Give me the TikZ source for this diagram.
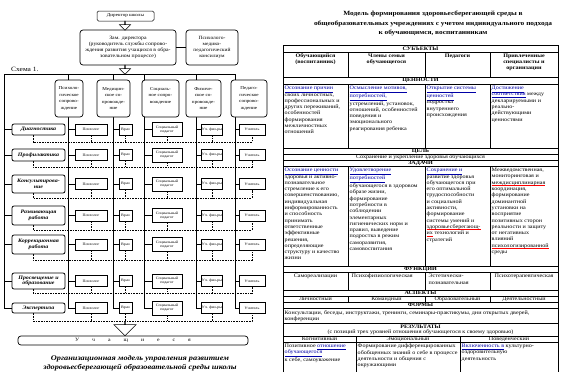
\documentclass[tikz,border=0pt]{standalone}
\usepackage{fontspec}
\setmainfont[FakeStretch=1.15]{Liberation Serif}
\usetikzlibrary{shapes.arrows}
\usetikzlibrary{positioning}

\newcommand{\fsz}[2]{\fontsize{#1}{#2}\selectfont}
\newcommand{\bl}[1]{\textcolor{blue!65!black}{\underline{#1}}}
\newsavebox{\rdbox}
\newcommand{\rd}[1]{\sbox{\rdbox}{#1}\rlap{\textcolor{red}{\rule[-0.6ex]{\wd\rdbox}{0.4pt}}}\usebox{\rdbox}}

\begin{document}
\begin{tikzpicture}[x=1pt,y=-1pt,
box/.style={draw,rounded corners=3pt,line width=0.7pt,fill=white,align=center,inner sep=1pt},
colbox/.style={box,minimum height=37,font=\fsz{4.5}{6.4}},
lbl/.style={draw,rounded corners=2pt,line width=0.8pt,fill=white,align=center,minimum width=53,inner sep=0.5pt,font=\fsz{5.2}{5.6}\bfseries\itshape},
sm/.style={draw,line width=0.4pt,fill=white,align=center,minimum height=11,inner sep=0.5pt,font=\fsz{3.6}{4.2}},
dsh/.style={dashed,dash pattern=on 1.6pt off 1pt,line width=0.4pt},
hollow/.style={single arrow,draw,fill=white,rotate=-90,inner sep=0pt,line width=0.5pt},
hd/.style={inner sep=0pt,font=\fsz{5.3}{6}\bfseries},
tcell/.style={anchor=north west,inner sep=0pt,align=left,font=\fsz{5.3}{6.3}}]
\useasboundingbox (0,0) rectangle (561,372);

\coordinate (tr0) at (4,74);
\coordinate (tr1) at (68,74);
\coordinate (tr2) at (113,74);
\coordinate (tr3) at (144,74);
\coordinate (tr4) at (196,74);
\coordinate (tr5) at (235,74);
\coordinate (bt) at (0,308);
\draw[line width=0.5pt] (tr0) -- (tr5);
\foreach \i in {0,...,5}
  \draw[line width=0.5pt] (tr\i) -- (tr\i |- bt);

\node[box,rounded corners=1.5pt,line width=0.5pt,minimum width=57,minimum height=10,font=\fsz{4.5}{5}] (dir) at (125.5,16) {Директор школы};
\node[box,minimum width=96,minimum height=35,font=\fsz{5}{5.8}] (zam) at (128,47.5)
  {Зам. директора\\(руководитель службы сопрово-\\ждения развития учащихся в обра-\\зовательном процессе)};
\node[box,minimum width=52,minimum height=35,font=\fsz{4.8}{5.8}] (pmpk) at (212,47.5)
  {Психолого-\\медико-\\педагогический\\консилиум};
\draw[line width=0.6pt] (zam) -- (pmpk);
\node[hollow,minimum height=9,minimum width=11,single arrow head extend=3pt] (ar1) at (125,25.5) {};
\node[hollow,minimum height=9,minimum width=11,single arrow head extend=3pt] (ar2) at (125,69.5) {};
\node[anchor=west,inner sep=0pt,font=\fsz{6.5}{7}] (sch) at (11,69.5) {Схема 1.};

\node[colbox,minimum width=28] (col1) at (69,98.5) {Психоло-\\гическое\\сопрово-\\ждение};
\node[colbox,minimum width=33] (col2) at (113.5,98.5) {Медицин-\\ское со-\\провожде-\\ние};
\node[colbox,minimum width=37] (col3) at (160.5,98.5) {Социаль-\\ное сопро-\\вождение\\~};
\node[colbox,minimum width=35] (col4) at (203.5,98.5) {Физиче-\\ское со-\\провожде-\\ние};
\node[colbox,minimum width=36] (col5) at (249,98.5) {Педаго-\\гическое\\сопрово-\\ждение};

\foreach \n/\t/\yc/\h/\dy in {1/Диагностика/129.5/11/142, 2/Профилактика/155/12/167,
  3/{Консультирова-\\ние}/184/18/198, 4/{Развивающая\\работа}/215.5/19/230,
  5/{Коррекционная\\работа}/244.5/19/260, 6/{Просвещение и\\образование}/281/16/293,
  7/Экспертиза/308/10/321}
{
  \node[lbl,minimum height=\h] (lb\n) at (38.5,\yc) {\t};
  \node[sm,minimum width=32] (ps\n) at (91,\yc) {Психолог};
  \node[sm,minimum width=13] (vr\n) at (125.5,\yc) {Врач};
  \node[sm,minimum width=30,minimum height=14] (sp\n) at (167,\yc) {Социальный\\педагог};
  \node[sm,minimum width=20] (fz\n) at (212,\yc) {Уч. физ-ры};
  \node[sm,minimum width=26] (uc\n) at (252,\yc) {Учитель};
  \coordinate (dl\n) at (33,\dy);
  \draw[line width=0.5pt] (lb\n.west) -- (lb\n.west -| tr0);
  \draw[line width=0.4pt] (ps\n.west) -- (ps\n.west -| tr1);
  \draw[line width=0.4pt] (vr\n.west) -- (vr\n.west -| tr2);
  \draw[line width=0.4pt] (sp\n.west) -- (sp\n.west -| tr3);
  \draw[line width=0.4pt] (fz\n.west) -- (fz\n.west -| tr4);
  \draw[line width=0.4pt] (uc\n.west) -- (uc\n.west -| tr5);
  \draw[dsh] (lb\n.south -| dl\n) -- (dl\n) -- (dl\n -| uc\n.south) -- (uc\n.south);
  \draw[dsh] (ps\n.south) -- (ps\n.south |- dl\n);
  \draw[dsh] (vr\n.south) -- (vr\n.south |- dl\n);
  \draw[dsh] (sp\n.south) -- (sp\n.south |- dl\n);
  \draw[dsh] (fz\n.south) -- (fz\n.south |- dl\n);
}

\node[hollow,minimum height=14,minimum width=22,single arrow head extend=5.5pt] (ar3) at (125,328.5) {};
\node[box,minimum width=230,minimum height=9,font=\fsz{5}{5}] (uch) at (133,340.5)
  {У\hspace{13pt}ч\hspace{13pt}а\hspace{13pt}щ\hspace{13pt}и\hspace{13pt}е\hspace{13pt}с\hspace{13pt}я};
\node[align=center,inner sep=0pt,font=\fsz{7.2}{8.7}\bfseries\itshape] (cap) at (140,363.5)
  {Организационная модель управления развитием\\здоровьесберегающей образовательной среды школы};

\node[align=center,inner sep=0pt,font=\fsz{6.4}{9.5}\bfseries] (title) at (433,23.5)
  {Модель формирования здоровьесберегающей среды в\\общеобразовательных учреждениях с учетом индивидуального подхода\\к обучающимся, воспитанникам};

\draw[line width=0.5pt] (283,372) -- (283,45) -- (558,45) -- (558,372);
\foreach \y in {52,77,84,148,154,160,166,266,272,290,296,302,308,323,336,342}
  \draw[line width=0.5pt] (283,\y) -- (558,\y);
\foreach \x in {348,425,490} {
  \draw[line width=0.5pt] (\x,52) -- (\x,77);
  \draw[line width=0.5pt] (\x,84) -- (\x,148);
  \draw[line width=0.5pt] (\x,166) -- (\x,266);
  \draw[line width=0.5pt] (\x,272) -- (\x,290);
  \draw[line width=0.5pt] (\x,296) -- (\x,302);
}
\foreach \x in {356,460}
  \draw[line width=0.5pt] (\x,336) -- (\x,372);

\node[hd] (h1) at (420.5,48.5) {СУБЪЕКТЫ};
\node[hd,anchor=north,align=center,font=\fsz{5.3}{6.3}\bfseries] (s1) at (315.5,53.5) {Обучающийся\\(воспитанник)};
\node[hd,anchor=north,align=center,font=\fsz{5.3}{6.3}\bfseries] (s2) at (386.5,53.5) {Члены семьи\\обучающегося};
\node[hd,anchor=north,align=center,font=\fsz{5.3}{6.3}\bfseries] (s3) at (457.5,53.5) {Педагоги};
\node[hd,anchor=north,align=center,font=\fsz{5.3}{6.3}\bfseries] (s4) at (524,53.5) {Привлеченные\\специалисты и\\организации};
\node[hd] (h2) at (420.5,80.5) {ЦЕННОСТИ};

\node[tcell] (v1) at (284.5,86) {\bl{Осознание причин}\\своих личностных,\\профессиональных и\\других переживаний,\\особенностей\\формирования\\межличностных\\отношений};
\node[tcell] (v2) at (349.5,86) {\bl{Осмысление мотивов,}\\\bl{потребностей,}\\устремлений, установок,\\отношений, особенностей\\поведения и\\эмоционального\\реагирования ребенка};
\node[tcell] (v3) at (426.5,86) {\bl{Открытие системы}\\\bl{ценностей}\\подростка\\внутреннего\\происхождения};
\node[tcell] (v4) at (491.5,86) {\bl{Достижение}\\\bl{соответствия} между\\декларируемыми и\\реально-\\действующими\\ценностями};

\node[hd] (h3) at (420.5,151) {ЦЕЛЬ};
\node[hd,font=\fsz{5.3}{6}] (goal) at (420.5,157) {Сохранение и укрепление здоровья обучающихся};
\node[hd] (h4) at (420.5,163) {ЗАДАЧИ};

\node[tcell] (t1) at (284.5,168) {\bl{Осознание ценности}\\здоровья и активно-\\познавательное\\стремление к его\\совершенствованию,\\индивидуальная\\информированность\\и способность\\принимать\\ответственные\\эффективные\\решения,\\определяющие\\структуру и качество\\жизни};
\node[tcell] (t2) at (349.5,168) {\bl{Удовлетворение}\\\bl{потребностей}\\обучающегося в здоровом\\образе жизни,\\формирование\\потребности в\\соблюдении\\элементарных\\гигиенических норм и\\правил, выведение\\подростка в режим\\саморазвития,\\самовоспитания};
\node[tcell] (t3) at (426.5,168) {\bl{Сохранение и}\\развитие здоровья\\обучающегося при\\его оптимальной\\трудоспособности\\и социальной\\активности,\\формирование\\системы умений и\\\rd{здоровьесберегающ-}\\\rd{их} технологий и\\стратегий};
\node[tcell] (t4) at (491.5,168) {Межведомственная,\\мониторинговая и\\\rd{междисциплинарная}\\координация,\\формирование\\доминантной\\установки на\\восприятие\\позитивных сторон\\реальности и защиту\\от негативных\\влияний\\\rd{психологизированной}\\среды};

\node[hd] (h5) at (420.5,269) {ФУНКЦИИ};
\node[tcell,anchor=north] (f1) at (315.5,274) {Самореализации};
\node[tcell] (f2) at (351.5,274) {Психофизиологическая};
\node[tcell] (f3) at (428.5,274) {Эстетически-\\познавательная};
\node[tcell] (f4) at (494.5,274) {Психотерапевтическая};

\node[hd] (h6) at (420.5,293) {АСПЕКТЫ};
\node[tcell,anchor=center] (a1) at (315.5,299) {Личностный};
\node[tcell,anchor=center] (a2) at (386.5,299) {Командный};
\node[tcell,anchor=center] (a3) at (457.5,299) {Образовательный};
\node[tcell,anchor=center] (a4) at (524,299) {Деятельностный};

\node[hd] (h7) at (420.5,305) {ФОРМЫ};
\node[tcell] (frm) at (284.5,310) {Консультации, беседы, инструктажи, тренинги, семинары-практикумы, дни открытых дверей,\\конференции};

\node[hd] (h8) at (420.5,326.5) {РЕЗУЛЬТАТЫ};
\node[hd,font=\fsz{5.3}{6}] (h8b) at (420.5,332.5) {(с позиций трех уровней отношения обучающегося к своему здоровью)};
\node[tcell,anchor=center] (k1) at (319.5,339) {Когнитивный};
\node[tcell,anchor=center] (k2) at (408,339) {Эмоциональный};
\node[tcell,anchor=center] (k3) at (509,339) {Поведенческий};

\node[tcell] (rs1) at (284.5,344) {Позитивное \bl{отношение}\\\bl{обучающегося}\\к себе, самоуважение};
\node[tcell] (rs2) at (357.5,344) {Формирование дифференцированных\\обобщенных знаний о себе в процессе\\деятельности и общения с\\окружающими};
\node[tcell] (rs3) at (461.5,344) {\bl{Включенность в} культурно-\\оздоровительную\\деятельность};
\end{tikzpicture}
\end{document}
